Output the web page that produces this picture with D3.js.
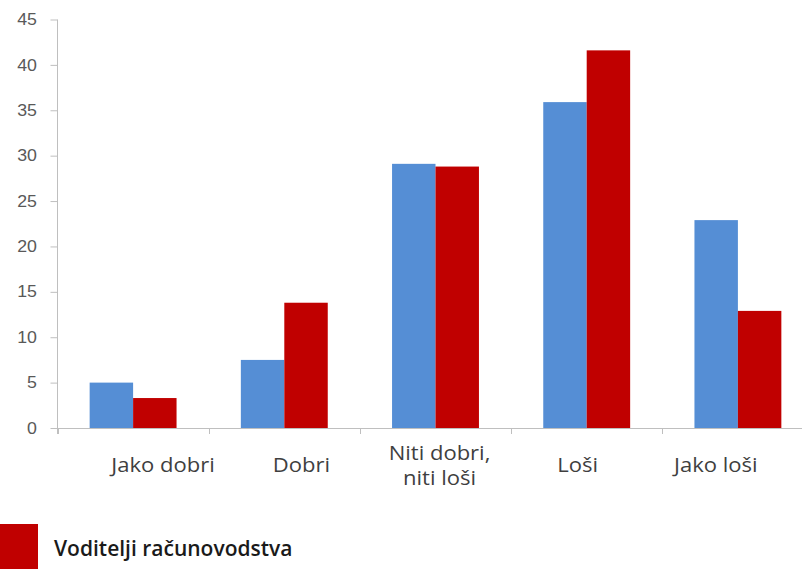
<!DOCTYPE html>
<html>
<head>
<meta charset="utf-8">
<script src="https://cdn.jsdelivr.net/npm/d3@7"></script>
<style>
  body { margin: 0; background: #fff; }
  svg { display: block; font-family: "Open Sans", sans-serif; }
</style>
</head>
<body>
<div id="chart"></div>
<script>
// Data
const categories = ["Jako dobri", "Dobri", "Niti dobri, niti loši", "Loši", "Jako loši"];
const categoryLines = [["Jako dobri"], ["Dobri"], ["Niti dobri,", "niti loši"], ["Loši"], ["Jako loši"]];
const seriesKeys = ["blue", "red"];
const blueValues = [5.0, 7.5, 29.1, 35.9, 22.9];
const redValues = [3.3, 13.8, 28.8, 41.6, 12.9];
const yTicks = [0, 5, 10, 15, 20, 25, 30, 35, 40, 45];
const legendLabels = ["Voditelji računovodstva"];

const width = 802, height = 569;
const colors = { blue: "#558ED5", red: "#C00000" };
const stretch = 1.13; // the picture is a bit wider than tall, text looks stretched

const svg = d3.select("#chart").append("svg")
  .attr("width", width)
  .attr("height", height);

// scales
let y = d3.scaleLinear().domain([0, 45]).range([428, 19.5]);
let x0 = d3.scaleBand().domain(categories).range([57.5, 57.5 + 151.2 * 5]).padding(0);
let x1 = d3.scaleBand().domain(seriesKeys).range([0, x0.bandwidth()]).paddingInner(0).paddingOuter(0.74);
// labels sit on their own, tighter spacing
let xLabel = d3.scaleBand().domain(categories).range([94, 785]).padding(0);

// y axis
let yAxis = d3.axisLeft(y).tickValues(yTicks).tickSize(7);
let gy = svg.append("g")
  .attr("transform", "translate(57.5,0)")
  .call(yAxis);
gy.select(".domain").attr("stroke", "#bfbfbf").attr("d", "M0," + y(45) + "V" + (y(0) + 6));
gy.selectAll(".tick line").attr("stroke", "#bfbfbf");
gy.selectAll(".tick text")
  .attr("x", null)
  .attr("transform", "translate(-20.5,0) scale(1.11,1)")
  .attr("fill", "#595959")
  .style("font-size", "16px");

// bars
const table = categories.map((c, i) => ({ cat: c, blue: blueValues[i], red: redValues[i] }));
let groups = svg.append("g").selectAll("g")
  .data(table)
  .enter()
  .append("g")
  .attr("transform", (d) => "translate(" + x0(d.cat) + ",0)");
groups.selectAll("rect")
  .data((d) => seriesKeys.map((k) => ({ key: k, value: d[k] })))
  .enter()
  .append("rect")
  .attr("x", (d) => x1(d.key))
  .attr("y", (d) => y(d.value))
  .attr("width", x1.bandwidth())
  .attr("height", (d) => y(0) - y(d.value))
  .attr("fill", (d) => colors[d.key]);

// x axis line and category tick marks
svg.append("line")
  .attr("x1", 57.5).attr("x2", width)
  .attr("y1", y(0) + 0.5).attr("y2", y(0) + 0.5)
  .attr("stroke", "#bfbfbf");
svg.append("g").selectAll("line")
  .data(categories)
  .enter()
  .append("line")
  .attr("x1", (d) => Math.round(x0(d)) + 0.5)
  .attr("x2", (d) => Math.round(x0(d)) + 0.5)
  .attr("y1", y(0))
  .attr("y2", y(0) + 6)
  .attr("stroke", "#bfbfbf");

// category labels, one text per line
const labelRows = [];
categories.forEach((c, i) => {
  let n = categoryLines[i].length;
  categoryLines[i].forEach((line, j) => {
    labelRows.push({ cat: c, text: line, base: n > 1 ? 460 + j * 25 : 472 });
  });
});
svg.append("g").selectAll("text")
  .data(labelRows)
  .enter()
  .append("text")
  .attr("transform", (d) => "translate(" + (xLabel(d.cat) + xLabel.bandwidth() / 2) + "," +
    d.base + ") scale(" + stretch + ",1)")
  .attr("text-anchor", "middle")
  .attr("fill", "#3f3f3f")
  .style("font-size", "19.5px")
  .text((d) => d.text);

// legend (cut off at the bottom edge)
let legend = svg.append("g");
legend.selectAll("rect")
  .data(legendLabels)
  .enter()
  .append("rect")
  .attr("x", 0)
  .attr("y", 524)
  .attr("width", 38)
  .attr("height", 50)
  .attr("fill", colors.red);
legend.selectAll("text")
  .data(legendLabels)
  .enter()
  .append("text")
  .attr("x", 54)
  .attr("y", 556)
  .attr("fill", "#1a1a1a")
  .style("font-size", "21px")
  .style("font-weight", "600")
  .text((d) => d);
</script>
</body>
</html>
